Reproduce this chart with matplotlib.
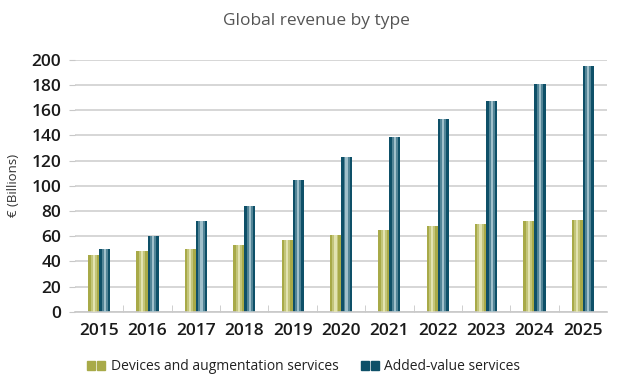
#Global revenue by type: grouped bars with a light stripe down the middle of each bar
import numpy as np
import matplotlib.pyplot as plt
from matplotlib.patches import Rectangle
from matplotlib.legend_handler import HandlerTuple

years = ['2015', '2016', '2017', '2018', '2019', '2020', '2021', '2022', '2023', '2024', '2025']
devices = [45, 48, 50, 53, 57, 61, 65, 68, 70, 72, 73]#Devices and augmentation services
added = [50, 60, 72, 84, 105, 123, 139, 153, 167, 181, 195]#Added-value services

green = '#a8aa48'; green_light = '#e6e7b8'
blue = '#0e5068'; blue_light = '#a9c7d1'

plt.rcParams['font.family'] = ['Open Sans', 'DejaVu Sans']

fig = plt.figure(figsize=(6.2, 3.86), dpi=100)
ax = fig.add_axes([0.121, 0.192, 0.858, 0.653])

x = np.arange(len(years))
w = 0.23

def striped_bars(xpos, vals, col, light, label):
    ax.bar(xpos, vals, w, color=col, label=label, zorder=2)
    ax.bar(xpos, vals, w*0.55, color=light, alpha=0.45, zorder=3)#soft sheen
    ax.bar(xpos, vals, w*0.2, color=light, alpha=0.9, zorder=4)#bright center

striped_bars(x - w/2, devices, green, green_light, 'Devices and augmentation services')
striped_bars(x + w/2, added, blue, blue_light, 'Added-value services')

ax.set_xlim(-0.5, len(years) - 0.5)
ax.set_ylim(0, 200)
ax.set_yticks(range(0, 201, 20))
ax.set_xticks(x)
ax.set_xticklabels(years)
ax.set_xticks(np.arange(0.5, len(years) - 1, 1), minor=True)

ax.yaxis.grid(True, color='#cfcfcf', linewidth=1.2, zorder=0)
ax.set_axisbelow(True)
for s in ['top', 'right', 'left']:
    ax.spines[s].set_visible(False)
ax.spines['bottom'].set_color('#c8c8c8')
ax.spines['bottom'].set_linewidth(1.2)

ax.tick_params(axis='y', length=4, color='#c8c8c8', labelsize=12.5, pad=6)
ax.tick_params(axis='x', which='major', length=0, labelsize=12.5, pad=8)
ax.tick_params(axis='x', which='minor', direction='in', length=5, color='#c8c8c8')
for t in ax.get_xticklabels() + ax.get_yticklabels():
    t.set_fontweight('semibold')
    t.set_color('#1a1a1a')

ax.set_ylabel('€ (Billions)', fontsize=9.5, color='#333333', labelpad=8)
fig.text(0.51, 0.945, 'Global revenue by type', ha='center', va='center',
         fontsize=12.5, color='#555555')

# legend markers: two small squares each, like the reference
g_h = (Rectangle((0, 0), 1, 1, color=green), Rectangle((0, 0), 1, 1, color=green))
b_h = (Rectangle((0, 0), 1, 1, color=blue), Rectangle((0, 0), 1, 1, color=blue))
leg = fig.legend([g_h, b_h], ['Devices and augmentation services', 'Added-value services'],
                 handler_map={tuple: HandlerTuple(ndivide=None, pad=0.15)},
                 loc='center', bbox_to_anchor=(0.49, 0.05), ncol=2, frameon=False,
                 fontsize=10, handlelength=1.3, handleheight=0.6, handletextpad=0.4,
                 columnspacing=1.6)
for t in leg.get_texts():
    t.set_color('#222222')

plt.savefig('out.png', dpi=100)
